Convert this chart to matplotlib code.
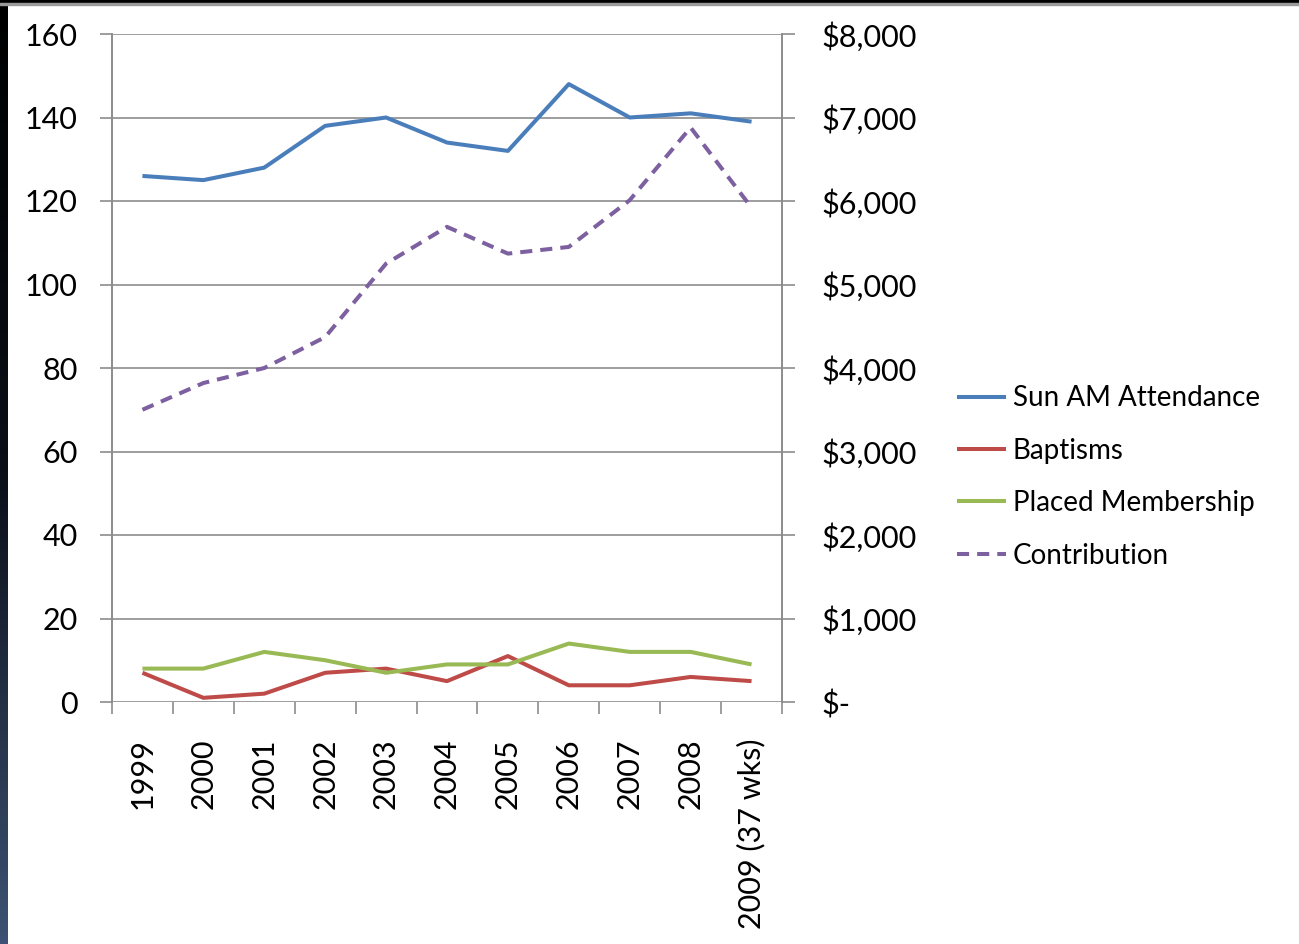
import numpy as np
import matplotlib
matplotlib.use("Agg")
import matplotlib.pyplot as plt
from matplotlib.patches import Rectangle
from matplotlib.ticker import FuncFormatter

years = ["1999", "2000", "2001", "2002", "2003", "2004", "2005", "2006",
         "2007", "2008", "2009 (37 wks)"]
attendance = [126, 125, 128, 138, 140, 134, 132, 148, 140, 141, 139]
baptisms = [7, 1, 2, 7, 8, 5, 11, 4, 4, 6, 5]
placed = [8, 8, 12, 10, 7, 9, 9, 14, 12, 12, 9]
contribution = [3500, 3820, 4000, 4370, 5250, 5690, 5370, 5450, 6010, 6880, 5920]

plt.rcParams['font.family'] = ['Lato', 'DejaVu Sans']

fig = plt.figure(figsize=(12.99, 9.44), dpi=100)

# slide frame remnants: dark left strip and top strip
grad = np.linspace(0, 1, 256).reshape(-1, 1)
bar_ax = fig.add_axes([0, 0, 8 / 1299, 1])
bar_ax.imshow(grad, aspect='auto', cmap=matplotlib.colors.LinearSegmentedColormap.from_list(
    'g', ['#000000', '#0a0f18', '#3d5274']), extent=[0, 1, 0, 1], origin='upper')
bar_ax.axis('off')
fig.patches.append(Rectangle((0, 1 - 3 / 944), 1, 3 / 944, transform=fig.transFigure,
                             color='black', zorder=5))
fig.patches.append(Rectangle((0, 1 - 5 / 944), 1, 2 / 944, transform=fig.transFigure,
                             color='#9a9a9a', zorder=5))

ax = fig.add_axes([112 / 1299, 242 / 944, 670 / 1299, 668 / 944])
ax2 = ax.twinx()
x = np.arange(len(years))

l1, = ax.plot(x, attendance, color='#4a7ebb', lw=2.9, label='Sun AM Attendance')
l2, = ax.plot(x, baptisms, color='#be4b48', lw=2.9, label='Baptisms')
l3, = ax.plot(x, placed, color='#98b954', lw=2.9, label='Placed Membership')
l4, = ax2.plot(x, contribution, color='#7d60a0', lw=2.9, ls=(0, (3, 2)), label='Contribution')
for ln in (l1, l2, l3, l4):
    ln.set_solid_capstyle('butt')
    ln.set_dash_capstyle('butt')

ax.set_xlim(-0.5, len(years) - 0.5)
ax.set_ylim(0, 160)
ax.set_yticks(np.arange(0, 161, 20))
ax2.set_ylim(0, 8000)
ax2.set_yticks(np.arange(0, 8001, 1000))
ax2.yaxis.set_major_formatter(FuncFormatter(lambda v, p: '$-' if v == 0 else f'${v:,.0f}'))

ax.grid(axis='y', color='#8c8c8c', lw=1.2)
ax.set_axisbelow(True)
for a in (ax, ax2):
    for s in a.spines.values():
        s.set_color('#8c8c8c')
        s.set_linewidth(1.2)
    a.spines['top'].set_visible(False)
ax.spines['bottom'].set_visible(False)
ax2.spines['bottom'].set_visible(False)

ax.set_xticks(np.arange(-0.5, len(years), 1.0))
ax.set_xticklabels([])
ax.set_xticks(x, minor=True)
ax.set_xticklabels(years, minor=True, rotation=90, fontsize=22)
ax.tick_params(axis='x', which='major', length=8.6, color='#8c8c8c', width=1.2)
ax.tick_params(axis='x', which='minor', length=0, pad=26)
ax.tick_params(axis='y', length=8.6, color='#8c8c8c', width=1.2, labelsize=22, pad=16)
ax2.tick_params(axis='y', length=9.4, color='#8c8c8c', width=1.2, labelsize=22, pad=19)

fig.legend(handles=[l1, l2, l3, l4], loc='center left', bbox_to_anchor=(932 / 1299, 1 - 477 / 944),
           frameon=False, fontsize=20, handlelength=1.75, handletextpad=0.25, labelspacing=0.95)

fig.savefig('out.png', dpi=100)
